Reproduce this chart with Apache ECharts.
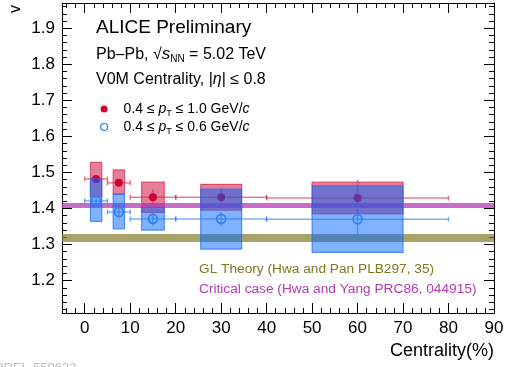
<!DOCTYPE html>
<html>
<head>
<meta charset="utf-8">
<script src="https://cdn.jsdelivr.net/npm/echarts@6/dist/echarts.min.js"></script>
<style>
  html, body { margin: 0; padding: 0; background: #fff; }
  #main { width: 509px; height: 367px; }
</style>
</head>
<body>
<div id="main"></div>
<script>
var myChart = echarts.init(document.getElementById('main'));

// centrality bins (%)
var centrality = [2.5, 7.5, 15, 30, 60];
var binLow = [0, 5, 10, 20, 40];
var binHigh = [5, 10, 20, 40, 80];
var sysHalfWidth = [1.25, 1.25, 2.5, 4.5, 10];

// 0.4 <= pT <= 1.0 GeV/c
var redValue = [1.482, 1.471, 1.431, 1.431, 1.429];
var redStat = [0.006, 0.01, 0.022, 0.02, 0.05];
var redSysLow = [1.433, 1.44, 1.389, 1.395, 1.385];
var redSysHigh = [1.528, 1.507, 1.473, 1.467, 1.473];

// 0.4 <= pT <= 0.6 GeV/c
var blueValue = [1.421, 1.39, 1.371, 1.371, 1.37];
var blueStat = [0.012, 0.018, 0.02, 0.02, 0.04];
var blueSysLow = [1.364, 1.343, 1.34, 1.287, 1.278];
var blueSysHigh = [1.482, 1.44, 1.403, 1.454, 1.463];

// theory lines
var glTheory = 1.321;
var criticalCase = 1.41;

var seriesNames = ['pt10', 'pt06'];
var legendLabels = {
  pt10: '0.4 ≤ {i|p}{sub|T} ≤ 1.0 GeV/{i|c}',
  pt06: '0.4 ≤ {i|p}{sub|T} ≤ 0.6 GeV/{i|c}'
};

var font = 'Liberation Sans, Arial, sans-serif';

function sysData(lo, hi) {
  return centrality.map(function (x, i) { return [x, lo[i], hi[i], sysHalfWidth[i]]; });
}
function errData(val, stat) {
  return centrality.map(function (x, i) { return [x, val[i], stat[i], binLow[i], binHigh[i]]; });
}
function pointData(val) {
  return centrality.map(function (x, i) { return [x, val[i]]; });
}

function boxRenderer(fill, stroke) {
  return function (params, api) {
    var x = api.value(0), lo = api.value(1), hi = api.value(2), w = api.value(3);
    var p1 = api.coord([x - w, hi]);
    var p2 = api.coord([x + w, lo]);
    return {
      type: 'rect',
      shape: { x: p1[0], y: p1[1], width: p2[0] - p1[0], height: p2[1] - p1[1] },
      style: { fill: fill, stroke: stroke, lineWidth: 1.2 }
    };
  };
}

function errRenderer(color) {
  return function (params, api) {
    var x = api.value(0), y = api.value(1), e = api.value(2), xl = api.value(3), xh = api.value(4);
    var c = api.coord([x, y]);
    var l = api.coord([xl, y]);
    var r = api.coord([xh, y]);
    var t = api.coord([x, y + e]);
    var b = api.coord([x, y - e]);
    var st = { stroke: color, lineWidth: 1.5 };
    return {
      type: 'group',
      children: [
        { type: 'line', shape: { x1: l[0], y1: c[1], x2: r[0], y2: c[1] }, style: st },
        { type: 'line', shape: { x1: l[0], y1: c[1] - 2.5, x2: l[0], y2: c[1] + 2.5 }, style: st },
        { type: 'line', shape: { x1: r[0], y1: c[1] - 2.5, x2: r[0], y2: c[1] + 2.5 }, style: st },
        { type: 'line', shape: { x1: c[0], y1: t[1], x2: c[0], y2: b[1] }, style: st }
      ]
    };
  };
}

var axisBase = {
  axisLine: { show: true, onZero: false, lineStyle: { color: '#000', width: 1 } },
  axisTick: { show: true, inside: true, length: 10, lineStyle: { color: '#000' } },
  minorTick: { show: true, splitNumber: 5, length: 5, lineStyle: { color: '#000' } },
  splitLine: { show: false },
  minorSplitLine: { show: false }
};

var option = {
  animation: false,
  grid: { left: 62, right: 15, top: 3, bottom: 54 },
  xAxis: [
    Object.assign({}, axisBase, {
      type: 'value', min: -5, max: 90, splitNumber: 10,
      axisLabel: { showMinLabel: false, color: '#000', fontSize: 17, fontFamily: font, margin: 7 },
      name: 'Centrality(%)', nameLocation: 'end', nameGap: 0,
      nameTextStyle: { align: 'right', verticalAlign: 'top', padding: [29, 0, 0, 0], fontSize: 18, color: '#000', fontFamily: font }
    }),
    Object.assign({}, axisBase, {
      type: 'value', min: -5, max: 90, splitNumber: 10, position: 'top',
      axisLabel: { show: false }
    })
  ],
  yAxis: [
    Object.assign({}, axisBase, {
      type: 'value', min: 1.11, max: 1.97, splitNumber: 8,
      axisLabel: {
        showMinLabel: false, showMaxLabel: false, color: '#000', fontSize: 17, fontFamily: font, margin: 7,
        formatter: function (v) { return v.toFixed(1); }
      }
    }),
    Object.assign({}, axisBase, {
      type: 'value', min: 1.11, max: 1.97, splitNumber: 8, position: 'right',
      axisLabel: { show: false }
    })
  ],
  legend: {
    orient: 'vertical', left: 95, top: 97, itemGap: 2, itemWidth: 7, itemHeight: 7,
    data: [
      { name: seriesNames[0] },
      { name: seriesNames[1], itemStyle: { borderWidth: 1.2 } }
    ],
    formatter: function (name) { return legendLabels[name]; },
    textStyle: {
      fontSize: 14, fontFamily: font, color: '#000', padding: [0, 0, 0, 11],
      rich: {
        i: { fontSize: 14, fontStyle: 'italic', fontFamily: font },
        sub: { fontSize: 9, fontFamily: font, padding: [9, 0, 0, 0] }
      }
    }
  },
  graphic: [
    { type: 'text', x: 8, y: 13, rotation: Math.PI / 2,
      style: { text: 'v', font: '16px ' + font, fill: '#000' }, silent: true },
    { type: 'text', x: 96, y: 18,
      style: { text: 'ALICE Preliminary', font: '19px ' + font, fill: '#000' } },
    { type: 'text', x: 96, y: 45,
      style: {
        text: 'Pb–Pb, √{i|s}{sub|NN} = 5.02 TeV', font: '16px ' + font, fill: '#000',
        rich: {
          i: { fontStyle: 'italic', fontSize: 17, fontFamily: font },
          sub: { fontSize: 10, fontFamily: font, padding: [9, 0, 0, 0] }
        }
      } },
    { type: 'text', x: 96, y: 72,
      style: {
        text: 'V0M Centrality, |{i|η}| ≤ 0.8', font: '16px ' + font, fill: '#000',
        rich: { i: { fontStyle: 'italic', fontSize: 16, fontFamily: font } }
      } },
    { type: 'text', x: 199, y: 262,
      style: { text: 'GL Theory (Hwa and Pan PLB297, 35)', font: '13.7px ' + font, fill: '#7d7a1c' } },
    { type: 'text', x: 199, y: 282,
      style: { text: 'Critical case (Hwa and Yang PRC86, 044915)', font: '13.7px ' + font, fill: '#b03cb0' } },
    { type: 'text', x: -29, y: 362,
      style: { text: 'ALI-PREL-559623', font: '13px ' + font, fill: '#bdbdbd' } }
  ],
  series: [
    {
      name: 'redSys', type: 'custom', z: 2, silent: true,
      renderItem: boxRenderer('rgba(204,0,51,0.5)', 'rgba(204,0,51,0.55)'),
      data: sysData(redSysLow, redSysHigh)
    },
    {
      name: 'redErr', type: 'custom', z: 3, silent: true,
      renderItem: errRenderer('rgba(214,40,80,0.6)'),
      data: errData(redValue, redStat)
    },
    {
      name: 'pt10', type: 'scatter', z: 4, symbol: 'circle', symbolSize: 8,
      itemStyle: { color: '#cc0033', opacity: 1 },
      data: pointData(redValue)
    },
    {
      name: 'blueSys', type: 'custom', z: 5, silent: true,
      renderItem: boxRenderer('rgba(0,102,255,0.5)', 'rgba(30,110,240,0.7)'),
      data: sysData(blueSysLow, blueSysHigh)
    },
    {
      name: 'blueErr', type: 'custom', z: 6, silent: true,
      renderItem: errRenderer('rgba(40,120,245,0.6)'),
      data: errData(blueValue, blueStat)
    },
    {
      name: 'pt06', type: 'scatter', z: 7, symbol: 'circle', symbolSize: 9,
      itemStyle: { color: 'rgba(255,255,255,0)', borderColor: '#2f80f0', borderWidth: 1.6, opacity: 1 },
      data: pointData(blueValue)
    },
    {
      name: 'theory', type: 'line', z: 9, data: [],
      markLine: {
        silent: true, symbol: 'none', animation: false,
        label: { show: false },
        data: [
          { yAxis: glTheory, lineStyle: { color: 'rgba(131,124,42,0.7)', width: 8, type: 'solid' } },
          { yAxis: criticalCase, lineStyle: { color: 'rgba(175,45,175,0.7)', width: 5, type: 'solid' } }
        ]
      }
    }
  ]
};

option && myChart.setOption(option);
</script>
</body>
</html>
